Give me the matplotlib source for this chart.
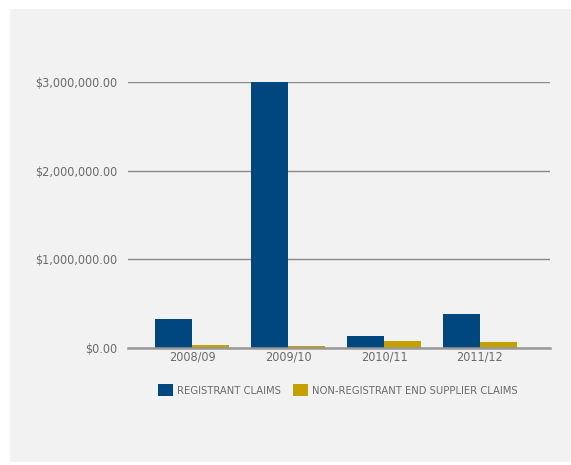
import numpy as np
import matplotlib.pyplot as plt
from matplotlib.patches import Rectangle
from matplotlib.ticker import FuncFormatter

years = ['2008/09', '2009/10', '2010/11', '2011/12']
registrant = [325000, 3000000, 140000, 378000]
non_registrant = [37000, 26000, 83000, 71000]

blue = '#00467f'
gold = '#c4a000'
txt = '#6a6a6a'
panel = '#f1f2f1'

plt.rcParams['font.family'] = ['DejaVu Sans']
plt.rcParams['font.stretch'] = 'condensed'

W, H = 571, 465
fig = plt.figure(figsize=(W / 100, H / 100), dpi=100, facecolor='white')
fig.patches.append(Rectangle((10 / W, 1 - 462 / H), 561 / W, 453 / H,
                             transform=fig.transFigure, facecolor=panel,
                             edgecolor='none', zorder=-5))

ax = fig.add_axes([128 / W, 1 - 348 / H, 422 / W, 266 / H])
ax.set_facecolor(panel)

x = np.arange(len(years))
w = 0.385
ax.bar(x - w / 2, registrant, w, color=blue, label='REGISTRANT CLAIMS', zorder=3)
ax.bar(x + w / 2, non_registrant, w, color=gold,
       label='NON-REGISTRANT END SUPPLIER CLAIMS', zorder=3)

ax.set_xlim(-0.667, 3.73)
ax.set_ylim(0, 3000000)
ax.set_yticks([0, 1000000, 2000000, 3000000])
ax.yaxis.set_major_formatter(FuncFormatter(lambda v, p: '${:,.2f}'.format(v)))
ax.set_xticks(x)
ax.set_xticklabels(years)
ax.grid(axis='y', color='#8a8a8a', linewidth=1.0, zorder=1)
for s in ['top', 'right', 'left']:
    ax.spines[s].set_visible(False)
ax.spines['bottom'].set_color('#999999')
ax.spines['bottom'].set_linewidth(1.8)
ax.spines['bottom'].set_zorder(4)
ax.tick_params(axis='both', length=0, colors=txt, labelsize=9)
ax.tick_params(axis='y', pad=8)
ax.tick_params(axis='x', pad=2)

leg = fig.legend(loc='center left', bbox_to_anchor=(148 / W, 1 - 390 / H), ncol=2,
                 frameon=False, fontsize=8, handlelength=1.35, handleheight=1.35,
                 handletextpad=0.35, columnspacing=1.1, labelcolor=txt)

fig.savefig('out.png', dpi=100, facecolor='white')
